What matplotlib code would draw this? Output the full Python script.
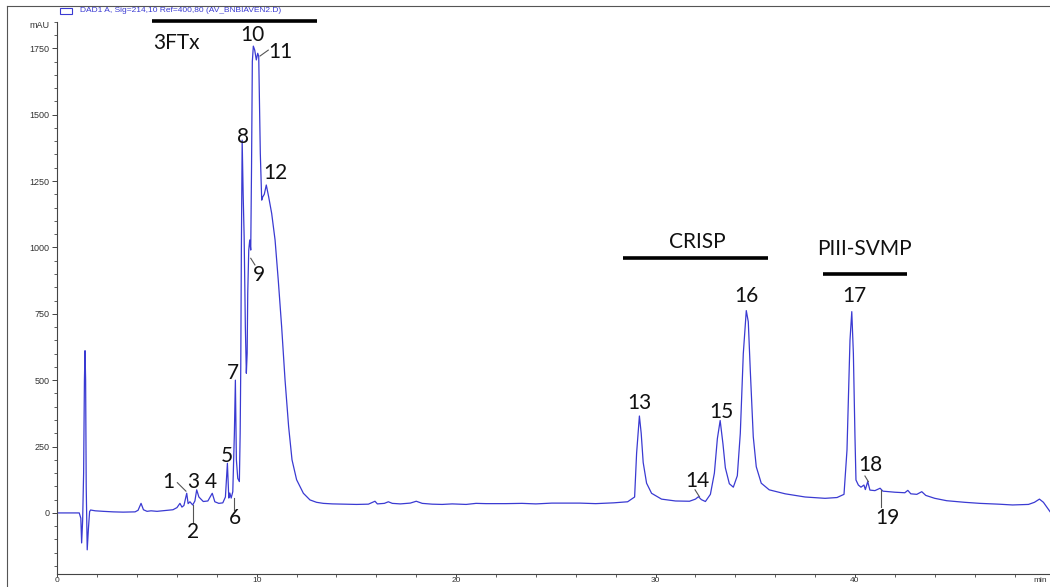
import matplotlib
matplotlib.use('Agg')
import matplotlib.pyplot as plt
from matplotlib.lines import Line2D
from matplotlib.patches import Rectangle
from matplotlib.ticker import MultipleLocator

# ---- chromatogram trace (time in min, signal in mAU) ----
time_min = [0.0, 1.10, 1.18, 1.22, 1.27, 1.32, 1.36, 1.39, 1.42, 1.45, 1.50, 1.56, 1.62, 1.67,
            1.9, 2.3, 2.8, 3.3, 3.9, 4.05, 4.2, 4.32, 4.5, 4.7, 5.0, 5.4, 5.8, 6.0, 6.15, 6.25,
            6.35, 6.49, 6.56, 6.65, 6.79, 6.9, 6.99, 7.1, 7.32, 7.55, 7.77, 7.9, 8.1, 8.3, 8.43,
            8.53, 8.6, 8.65, 8.72, 8.8, 8.88, 8.93, 8.98, 9.05, 9.13, 9.17, 9.2, 9.23, 9.27, 9.32,
            9.37, 9.43, 9.48, 9.52, 9.55, 9.6, 9.65, 9.7, 9.74, 9.78, 9.83, 9.9, 9.98, 10.05,
            10.1, 10.18, 10.25, 10.3, 10.38, 10.48, 10.6, 10.75, 10.92, 11.08, 11.25, 11.42,
            11.6, 11.77, 12.0, 12.34, 12.67, 13.0, 13.34, 13.8, 14.5, 15.0, 15.6, 15.93, 16.05,
            16.4, 16.6, 16.8, 17.2, 17.7, 18.0, 18.3, 18.8, 19.3, 19.8, 20.5, 21.0, 21.5, 22.5,
            23.3, 24.0, 24.8, 25.5, 26.2, 27.0, 27.9, 28.6, 28.95, 29.05, 29.19, 29.28, 29.38,
            29.55, 29.8, 30.3, 31.0, 31.7, 32.0, 32.15, 32.3, 32.5, 32.75, 32.95, 33.1, 33.24,
            33.38, 33.5, 33.7, 33.9, 34.1, 34.25, 34.4, 34.55, 34.65, 34.75, 34.9, 35.05, 35.3,
            35.7, 36.5, 37.5, 38.5, 39.1, 39.45, 39.6, 39.75, 39.84, 39.92, 40.0, 40.05, 40.17,
            40.3, 40.45, 40.52, 40.64, 40.75, 41.0, 41.26, 41.4, 42.0, 42.5, 42.65, 42.8, 43.1,
            43.35, 43.55, 44.0, 44.6, 45.5, 46.27, 47.2, 47.9, 48.7, 49.0, 49.25, 49.45, 49.6,
            49.78]
absorbance_mau = [0, 0, -20, -113, -30, 150, 500, 611, 500, 100, -139, -60, 5, 11,
                  8, 6, 4, 3, 4, 10, 36, 12, 6, 8, 6, 9, 12, 20, 36, 22,
                  28, 74, 35, 42, 30, 45, 87, 60, 43, 45, 74, 42, 36, 38, 60,
                  187, 56, 75, 56, 80, 300, 500, 200, 130, 118, 300, 551, 990, 1404, 1200,
                  1040, 700, 526, 600, 827, 990, 1028, 990, 1300, 1700, 1758, 1743, 1706, 1731,
                  1720, 1354, 1178, 1190, 1200, 1235, 1190, 1128, 1028, 877, 701, 501,
                  325, 200, 125, 74, 49, 40, 36, 34, 33, 32, 33, 44, 34,
                  36, 42, 36, 34, 37, 44, 36, 33, 32, 34, 32, 36, 35, 35,
                  36, 34, 37, 37, 37, 35, 38, 42, 60, 225, 365, 300, 190,
                  112, 74, 52, 45, 44, 52, 61, 50, 43, 70, 150, 280, 348,
                  260, 170, 110, 97, 140, 300, 600, 762, 720, 538, 287, 174, 112,
                  87, 72, 60, 55, 58, 70, 237, 650, 758, 600, 287, 124, 105,
                  97, 105, 88, 118, 86, 84, 93, 82, 78, 76, 85, 72, 70,
                  80, 66, 55, 46, 40, 36, 33, 30, 32, 40, 52, 40, 24,
                  5]

# ---- peak labels ----
peak_names = ['1', '2', '3', '4', '5', '6', '7', '8', '9', '10', '11', '12', '13', '14', '15',
              '16', '17', '18', '19']
peak_text_t = [5.57, 6.82, 6.82, 7.69, 8.50, 8.91, 8.83, 9.31, 10.13, 9.80, 11.17, 10.92,
               29.17, 32.10, 33.32, 34.57, 39.95, 40.79, 41.63]
peak_text_v = [118, -70, 118, 118, 215, -20, 528, 1417, 896, 1800, 1737, 1279,
               413, 122, 381, 817, 817, 181, -20]

# leader lines: (label, from t, from v, to t, to v)
leader_names = ['1', '2', '6', '9', '11', '14', '18', '19']
leader_t0 = [6.02, 6.82, 8.88, 9.91, 10.58, 31.98, 40.50, 41.29]
leader_v0 = [114, -39, 11, 934, 1743, 87, 139, 24]
leader_t1 = [6.45, 6.82, 8.88, 9.70, 10.17, 32.20, 40.67, 41.29]
leader_v1 = [82, 30, 55, 959, 1721, 61, 118, 87]

# ---- protein family bands ----
family_names = ['3FTx', 'CRISP', 'PIII-SVMP']
family_text_t = [5.99, 32.07, 40.45]
family_text_v = [1768, 1021, 993]
family_start = [4.73, 28.38, 38.39]
family_end = [13.01, 35.66, 42.63]
family_bar_v = [1853, 959, 899]

x_major = [0, 10, 20, 30, 40]
y_major = [0, 250, 500, 750, 1000, 1250, 1500, 1750]

W, H = 1050, 587
fig = plt.figure(figsize=(W / 100, H / 100), dpi=100)
ax = fig.add_axes([57.3 / W, 1 - 574 / H, 1 - 57.3 / W, (574 - 21.7) / H])

ax.plot(time_min, absorbance_mau, color='#3a3ad2', lw=0.9)
ax.set_xlim(0, 49.78)
ax.set_ylim(-230, 1850)

for s in ['top', 'right']:
    ax.spines[s].set_visible(False)
for s in ['left', 'bottom']:
    ax.spines[s].set_color('#444444')
    ax.spines[s].set_linewidth(0.8)

ax.set_xticks(x_major)
ax.set_xticklabels([str(v) for v in x_major])
ax.xaxis.set_minor_locator(MultipleLocator(2))
ax.set_yticks(y_major)
ax.set_yticklabels([str(v) for v in y_major])
ax.yaxis.set_minor_locator(MultipleLocator(50))
ax.tick_params(axis='both', which='major', labelsize=6.5, labelcolor='#333333',
               colors='#444444', length=3.5, width=0.7)
ax.tick_params(axis='both', which='minor', colors='#444444', length=2, width=0.6)
ax.tick_params(axis='x', which='major', pad=0, length=2, labelsize=6)
ax.tick_params(axis='y', which='major', pad=2)
for lab in ax.get_xticklabels() + ax.get_yticklabels():
    lab.set_family('Liberation Sans')

label_font = dict(family='Lato', fontsize=15, color='#111111')

for name, t, v in zip(peak_names, peak_text_t, peak_text_v):
    ax.text(t, v, name, ha='center', va='center', clip_on=False, **label_font)

for name, t0, v0, t1, v1 in zip(leader_names, leader_t0, leader_v0, leader_t1, leader_v1):
    ax.plot([t0, t1], [v0, v1], color='#555555', lw=0.8, clip_on=False)

for name, tt, tv, a, b, bv in zip(family_names, family_text_t, family_text_v,
                                   family_start, family_end, family_bar_v):
    ax.text(tt, tv, name, ha='center', va='center', clip_on=False, **label_font)
    ax.plot([a, b], [bv, bv], color='black', lw=2.6, solid_capstyle='butt', clip_on=False)

# figure frame
fig.add_artist(Line2D([7 / W, 1], [1 - 6 / H, 1 - 6 / H], transform=fig.transFigure,
                      color='#555555', lw=0.8))
fig.add_artist(Line2D([7 / W, 7 / W], [0, 1 - 6 / H], transform=fig.transFigure,
                      color='#555555', lw=0.8))

# signal legend
fig.add_artist(Rectangle((60 / W, 1 - 14 / H), 12 / W, 6 / H, transform=fig.transFigure,
                         fill=False, edgecolor='#3a3ad2', lw=0.8))
fig.text(80 / W, 1 - 11 / H, 'DAD1 A, Sig=214,10 Ref=400,80 (AV_BNBIAVEN2.D)',
         ha='left', va='center', fontsize=6, color='#3a3ad2', family='Liberation Sans')

# axis unit labels
fig.text(50 / W, 1 - 26 / H, 'mAU', ha='right', va='center', fontsize=6.5,
         color='#333333', family='Liberation Sans')
fig.text(1047 / W, 1 - 580 / H, 'min', ha='right', va='center', fontsize=6,
         color='#333333', family='Liberation Sans')

fig.savefig('out.png', dpi=100)
